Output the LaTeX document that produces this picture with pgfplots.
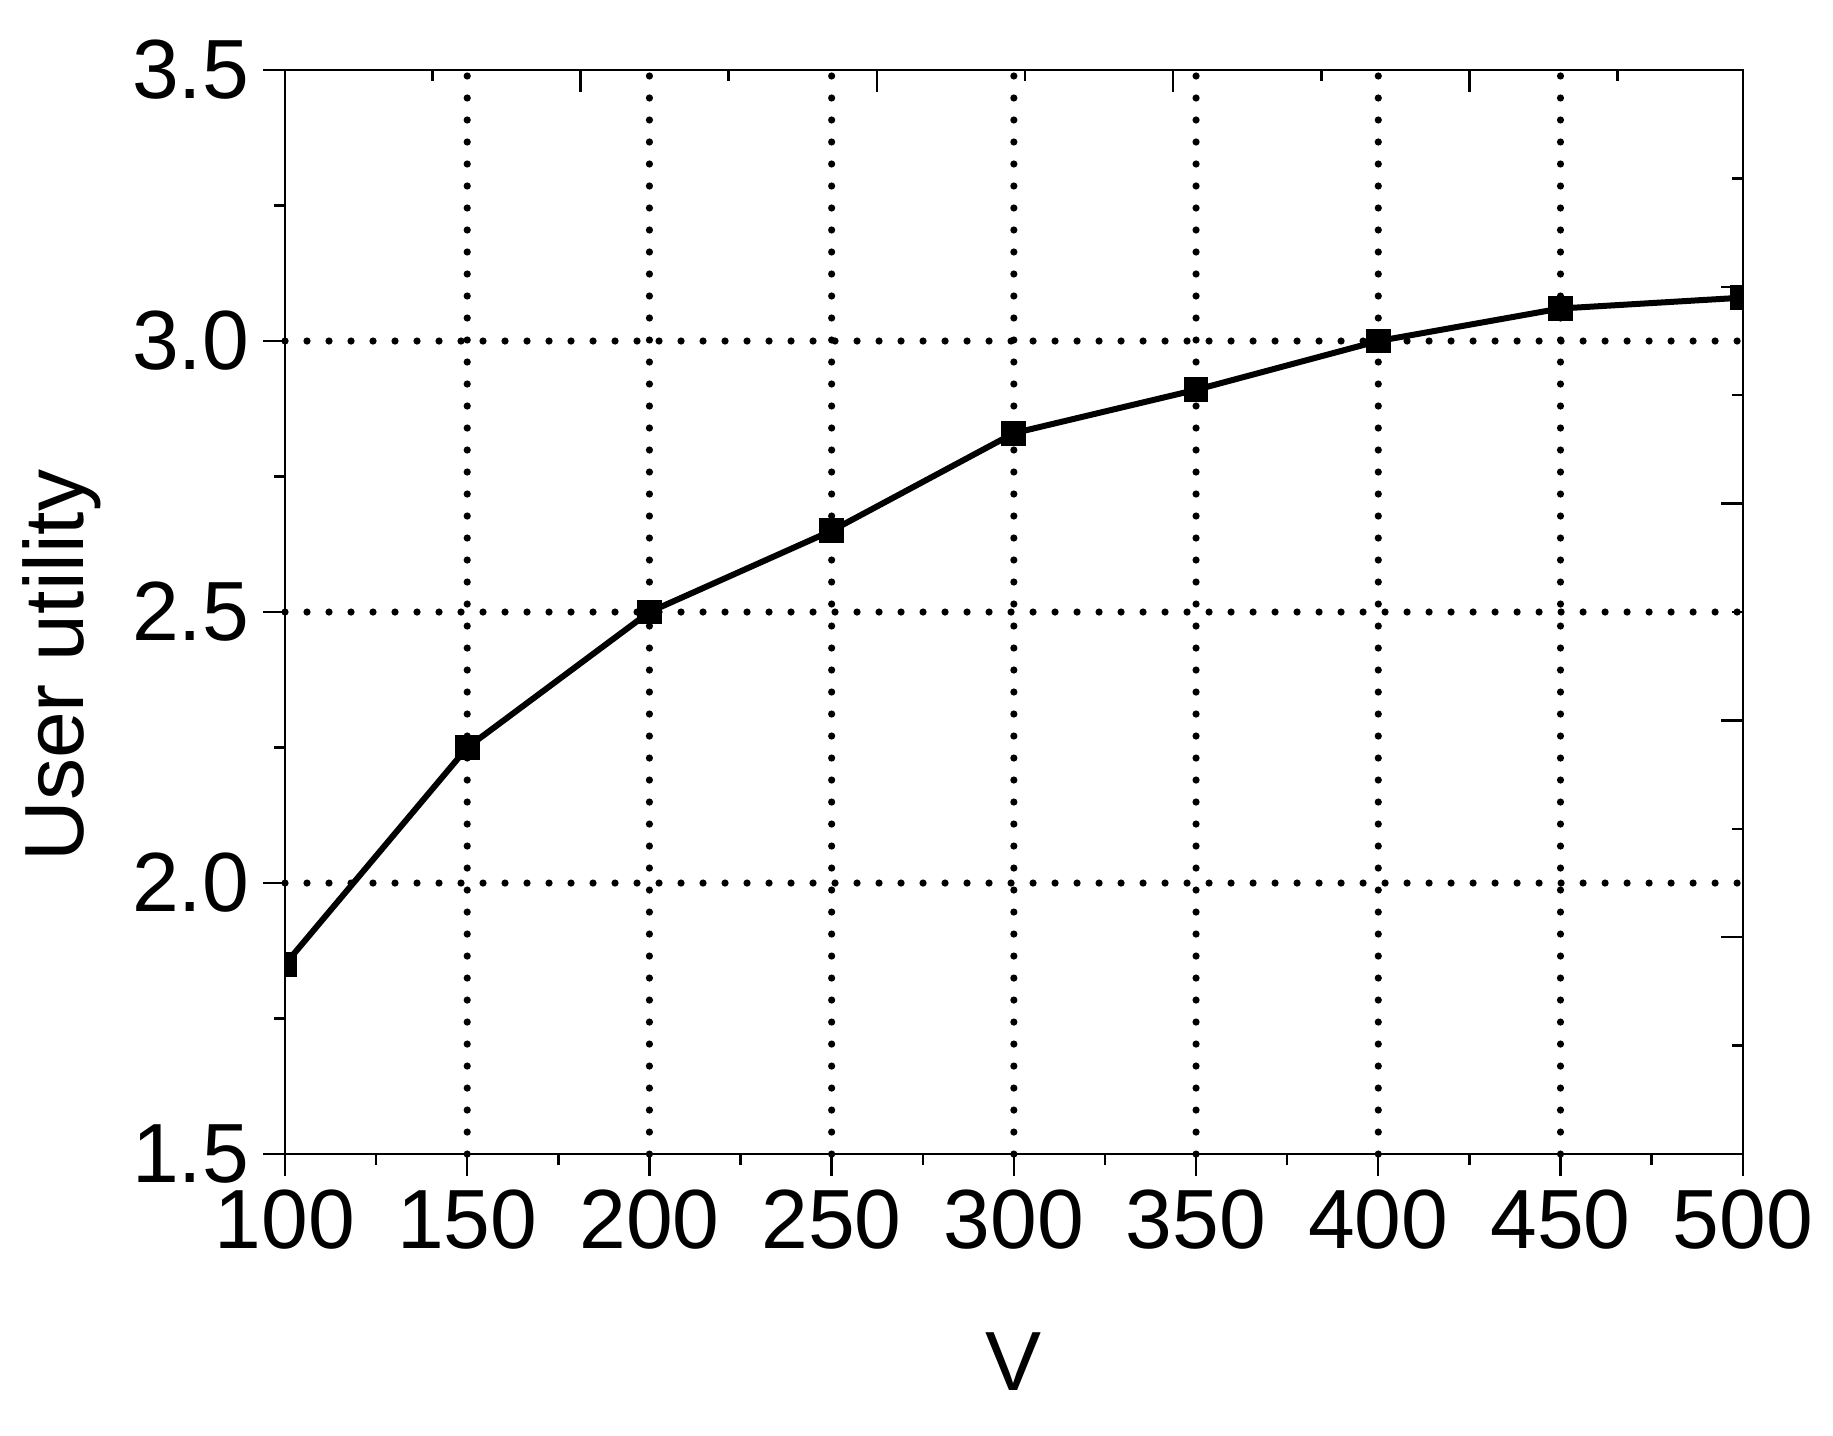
\documentclass[border=0pt]{standalone}
\usepackage{fontspec}
\setmainfont{Liberation Sans}
\usepackage{pgfplots}
\pgfplotsset{compat=1.18}
\newcommand{\bigfont}{\fontsize{21}{25}\selectfont}

\begin{document}
\begin{tikzpicture}
\begin{axis}[
    name=ax,
    scale only axis,
    width=364.4pt, height=271pt,
    xmin=100, xmax=500, ymin=1.5, ymax=3.5,
    xtick={100,150,...,500},
    ytick={1.5,2.0,...,3.5},
    minor x tick num=1, minor y tick num=1,
    xtick pos=left, ytick pos=left,
    tick align=outside,
    major tick length=5.5pt, minor tick length=2.75pt,
    axis line style={line width=0.6pt},
    tick style={black, line width=0.6pt},
    % dotted grid only inside the box
    extra x ticks={150,200,...,450},
    extra y ticks={2.0,2.5,3.0},
    extra x tick labels={}, extra y tick labels={},
    extra tick style={grid=major, major tick length=0pt},
    major grid style={black, line width=1.8pt, line cap=round, dash pattern=on 0pt off 5.5pt},
    clip marker paths=true,
    tick label style={font=\bigfont},
    /pgf/number format/assume math mode=true,
    y tick label style={/pgf/number format/fixed, /pgf/number format/fixed zerofill, /pgf/number format/precision=1},
    x tick label style={/pgf/number format/1000 sep={}},
    xlabel={V}, ylabel={User utility},
    every axis x label/.style={at={(axis description cs:0.5,-0.2177)}, anchor=base, font=\bigfont},
    every axis y label/.style={at={(axis description cs:-0.13857,0.4506)}, rotate=90, anchor=base, font=\bigfont},
]
\addplot[black, line width=1.5pt, mark=square*, mark size=2.85pt, mark options={solid, line width=0.5pt}]
    coordinates {(100,1.85) (150,2.25) (200,2.50) (250,2.65) (300,2.83) (350,2.91) (400,3.00) (450,3.06) (500,3.08)};
\end{axis}
% top and right axes carry their own inward ticks
\begin{axis}[
    scale only axis,
    width=364.4pt, height=271pt,
    at={(ax.south west)}, anchor=south west,
    xmin=100, xmax=500, ymin=1.5, ymax=3.5,
    axis x line*=top, axis y line*=right,
    axis line style={draw=none},
    xtick={181.1,262.4,343.7,425.0}, minor xtick={140.5,221.7,303.0,384.4,465.6},
    ytick={1.9,2.3,2.7,3.1}, minor ytick={1.7,2.1,2.5,2.9,3.3},
    xticklabels={}, yticklabels={},
    tick align=inside,
    major tick length=5.5pt, minor tick length=2.75pt,
    tick style={black, line width=0.6pt},
]
\end{axis}
\pgfresetboundingbox
\path ([xshift=-71.25pt,yshift=-70.25pt]ax.south west) rectangle ([xshift=22.575pt,yshift=17.5pt]ax.north east);
\end{tikzpicture}
\end{document}
